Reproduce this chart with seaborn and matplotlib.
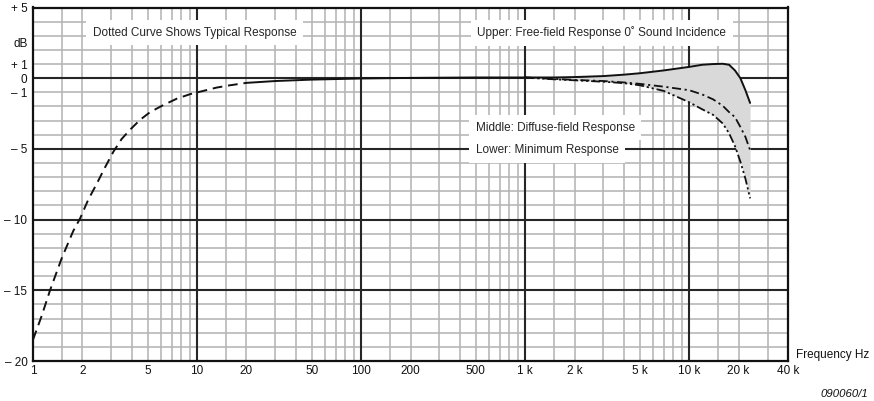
import numpy as np
import pandas as pd
import matplotlib
matplotlib.use("Agg")
import matplotlib.pyplot as plt
from matplotlib.ticker import FixedLocator, NullLocator
import seaborn as sns

# Low-frequency roll-off (typical response, dashed)
freq_low = [1, 1.13, 1.27, 1.5, 1.76, 1.94, 2.17, 2.45, 2.75, 3.09, 3.47, 3.9,
            4.49, 5.17, 6.23, 7.52, 9.06, 10.9, 13.2, 15.9, 20]
db_low = [-18.5, -16.8, -15.0, -12.7, -10.8, -9.9, -8.6, -7.45, -6.3, -5.2, -4.3, -3.65,
          -2.95, -2.4, -1.9, -1.45, -1.13, -0.9, -0.66, -0.5, -0.33]

# Flat mid band shared by all responses
freq_mid = [20, 30, 50, 100, 200, 500, 1000]
db_mid = [-0.33, -0.2, -0.1, -0.02, 0.02, 0.05, 0.05]

# High-frequency region: three responses
freq_hf = [1000, 1500, 2000, 3000, 4000, 5000, 7000, 10000, 12000, 14000,
           16000, 17500, 19000, 20500, 22000, 23500]
db_upper = [0.05, 0.05, 0.08, 0.15, 0.25, 0.35, 0.55, 0.8, 0.95, 1.0,
            1.02, 0.95, 0.55, 0.0, -0.85, -1.75]
db_middle = [0.05, -0.05, -0.12, -0.2, -0.3, -0.4, -0.6, -0.85, -1.15, -1.5,
             -1.95, -2.4, -2.75, -3.45, -4.15, -5.1]
db_lower = [0.05, -0.08, -0.15, -0.25, -0.35, -0.5, -0.9, -1.7, -2.2, -2.6,
            -3.2, -3.9, -4.8, -5.9, -7.1, -8.5]

# Axis labels
xtick_vals = [1, 2, 5, 10, 20, 50, 100, 200, 500, 1000, 2000, 5000, 10000, 20000, 40000]
xtick_text = ["1", "2", "5", "10", "20", "50", "100", "200", "500",
              "1 k", "2 k", "5 k", "10 k", "20 k", "40 k"]
ytick_vals = [5, 2.55, 1, 0, -1, -5, -10, -15, -20]
ytick_text = ["+ 5", "dB", "+ 1", "0", "\u2013 1", "\u2013 5", "\u2013 10", "\u2013 15", "\u2013 20"]

sns.set_theme(style="white")
plt.rcParams["font.family"] = ["Liberation Sans", "DejaVu Sans"]

fig = plt.figure(figsize=(8.74, 4.01), dpi=100)
ax = fig.add_axes([33 / 874, 1 - 361 / 401, (788 - 33) / 874, (361 - 7.5) / 401])
ax.set_xscale("log")
ax.set_xlim(1, 40000)
ax.set_ylim(-20, 5)

# Graph-paper grid: 1 dB rows, 1.5/2..9 per decade columns
minor_grey = "#b4b4b4"
major_dark = "#262626"
for dec in [1, 10, 100, 1000, 10000]:
    for m in [1.5, 2, 3, 4, 5, 6, 7, 8, 9]:
        f = dec * m
        if f < 40000:
            ax.axvline(f, color=minor_grey, lw=1.15, zorder=1)
for f in [10, 100, 1000, 10000]:
    ax.axvline(f, color=major_dark, lw=1.5, zorder=2)
for y in range(-19, 5):
    if y % 5 == 0:
        ax.axhline(y, color=major_dark, lw=1.5, zorder=2)
    else:
        ax.axhline(y, color=minor_grey, lw=1.15, zorder=1)

df_low = pd.DataFrame({"f": freq_low, "dB": db_low})
df_mid = pd.DataFrame({"f": freq_mid, "dB": db_mid})
df_hf = pd.DataFrame({"f": freq_hf, "upper": db_upper, "middle": db_middle, "lower": db_lower})

ax.fill_between(df_hf["f"], df_hf["upper"], df_hf["lower"], color="#d9d9d9", lw=0, zorder=3)

sns.lineplot(data=df_low, x="f", y="dB", ax=ax, color="#111111", lw=1.4,
             linestyle=(0, (5, 3)), zorder=5, estimator=None, sort=False)
sns.lineplot(data=df_mid, x="f", y="dB", ax=ax, color="#111111", lw=1.4,
             zorder=5, estimator=None, sort=False)
sns.lineplot(data=df_hf, x="f", y="upper", ax=ax, color="#111111", lw=1.4,
             zorder=6, estimator=None, sort=False)
sns.lineplot(data=df_hf, x="f", y="middle", ax=ax, color="#111111", lw=1.3,
             linestyle=(0, (5, 2, 1.2, 2)), zorder=6, estimator=None, sort=False)
sns.lineplot(data=df_hf, x="f", y="lower", ax=ax, color="#111111", lw=1.3,
             linestyle=(0, (5, 1.6, 1.2, 1.6, 1.2, 1.6)), zorder=6, estimator=None, sort=False)

box = dict(boxstyle="square,pad=0.55", facecolor="white", edgecolor="none")
ax.text(2.32, 3.2, "Dotted Curve Shows Typical Response", fontsize=8.5,
        ha="left", va="center", bbox=box, zorder=4)
ax.text(510, 3.2, "Upper: Free-field Response 0\u02da Sound Incidence", fontsize=8.5,
        ha="left", va="center", bbox=box, zorder=4)
ax.text(500, -3.5, "Middle: Diffuse-field Response", fontsize=8.5,
        ha="left", va="center", bbox=box, zorder=4)
ax.text(500, -5.1, "Lower: Minimum Response", fontsize=8.5,
        ha="left", va="center", bbox=box, zorder=4)

ax.xaxis.set_major_locator(FixedLocator(xtick_vals))
ax.xaxis.set_minor_locator(NullLocator())
ax.set_xticklabels(xtick_text)
ax.yaxis.set_major_locator(FixedLocator(ytick_vals))
ax.yaxis.set_minor_locator(NullLocator())
ax.set_yticklabels(ytick_text)
ax.tick_params(axis="both", length=0, labelsize=8.5, colors="#111111")
ax.tick_params(axis="x", pad=3)
ax.tick_params(axis="y", pad=4)
ax.set_xlabel("")
ax.set_ylabel("")

for sp in ax.spines.values():
    sp.set_visible(True)
    sp.set_color("#111111")
    sp.set_linewidth(1.6)
    sp.set_zorder(7)

fig.text(796 / 874, 1 - 355 / 401, "Frequency Hz", fontsize=8.5, ha="left", va="center",
         color="#111111")
fig.text(868 / 874, 1 - 394 / 401, "090060/1", fontsize=8.2, ha="right", va="center",
         style="italic", color="#111111")

fig.savefig("out.png", dpi=100, facecolor="white")
